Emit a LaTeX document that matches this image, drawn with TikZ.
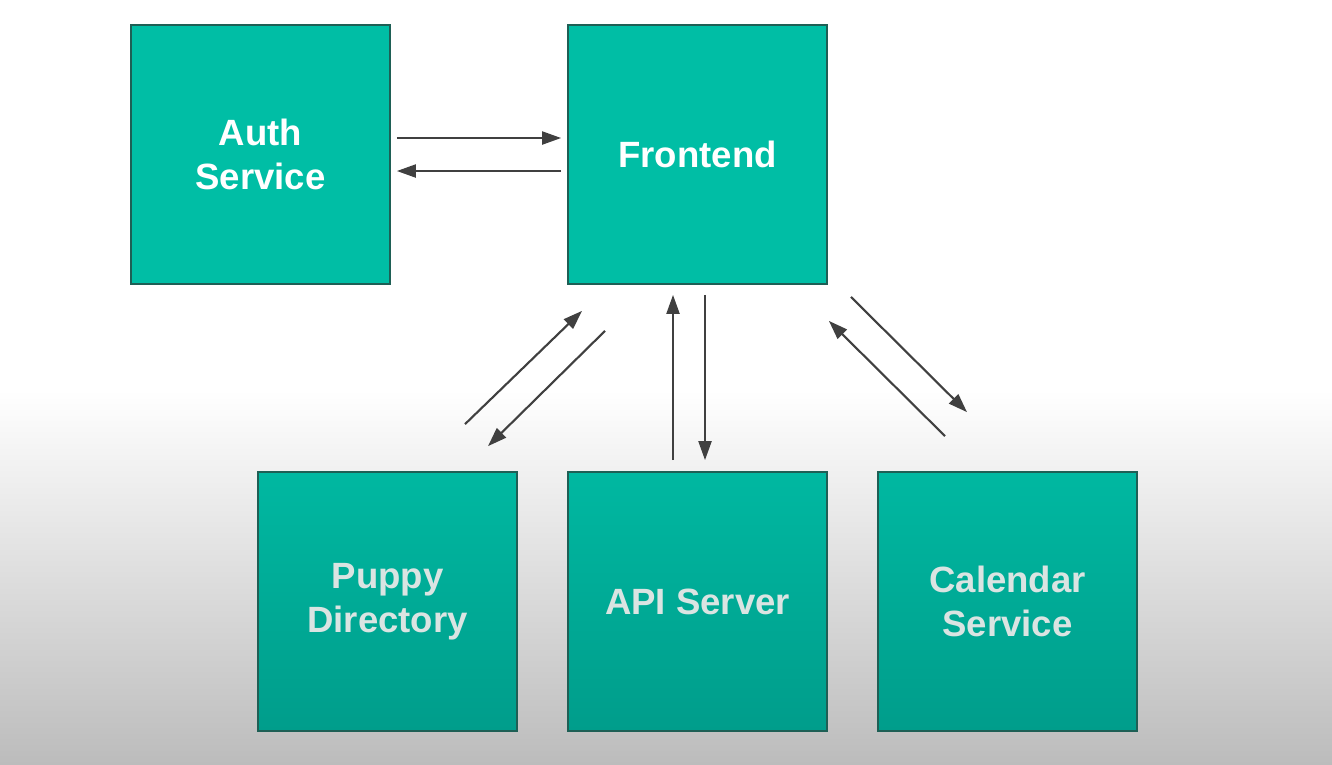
\documentclass[tikz,border=0pt]{standalone}
\usepackage{fontspec}
\setmainfont{Liberation Sans}
\usepackage{tikz}
\usetikzlibrary{arrows.meta}

\definecolor{boxteal}{RGB}{0,190,165}
\definecolor{boxedge}{RGB}{30,95,85}
\definecolor{lowtop}{RGB}{0,184,161}
\definecolor{lowbot}{RGB}{0,157,139}
\definecolor{lowtext}{RGB}{218,228,226}
\definecolor{arrowgray}{RGB}{64,64,64}
\definecolor{floorgray}{RGB}{188,188,188}

\begin{document}
\begin{tikzpicture}[
        service/.style={draw=boxedge, line width=0.5pt, minimum width=2.59cm, minimum height=2.59cm,
            inner sep=0pt, align=center, font=\fontsize{10.4}{12.4}\selectfont\bfseries},
        upper/.style={service, fill=boxteal, text=white},
        lower/.style={service, top color=lowtop, bottom color=lowbot, text=lowtext},
        flow/.style={draw=arrowgray, line width=0.6pt, -{Triangle[length=0.19cm, width=0.13cm]}}
    ]
        \useasboundingbox (0,0) rectangle (13.32,-7.64);
        \fill[white] (0,0) rectangle (13.32,-3.9);
        \shade[top color=white, bottom color=floorgray] (0,-3.9) rectangle (13.32,-7.64);

        \node[upper] (auth) at (2.605,-1.545) {Auth\\Service};
        \node[upper] (front) at (6.975,-1.545) {Frontend};
        \node[lower] (puppy) at (3.875,-6.015) {Puppy\\Directory};
        \node[lower] (api) at (6.975,-6.015) {API Server};
        \node[lower] (cal) at (10.075,-6.015) {Calendar\\Service};

        % auth <-> frontend
        \draw[flow] ([shift={(0.06,0.165)}]auth.east) -- ([shift={(-0.06,0.165)}]front.west);
        \draw[flow] ([shift={(-0.06,-0.165)}]front.west) -- ([shift={(0.06,-0.165)}]auth.east);

        % puppy directory <-> frontend
        \draw[flow] ([shift={(0.775,0.47)}]puppy.north) -- ([shift={(-1.155,-0.26)}]front.south);
        \draw[flow] ([shift={(-0.925,-0.46)}]front.south) -- ([shift={(1.005,0.25)}]puppy.north);

        % api server <-> frontend
        \draw[flow] ([shift={(-0.245,0.11)}]api.north) -- ([shift={(-0.245,-0.10)}]front.south);
        \draw[flow] ([shift={(0.075,-0.10)}]front.south) -- ([shift={(0.075,0.11)}]api.north);

        % calendar <-> frontend
        \draw[flow] ([shift={(0.23,-0.12)}]front.south east) -- ([shift={(-0.405,0.59)}]cal.north);
        \draw[flow] ([shift={(-0.625,0.35)}]cal.north) -- ([shift={(0.01,-0.36)}]front.south east);
    \end{tikzpicture}
\end{document}
